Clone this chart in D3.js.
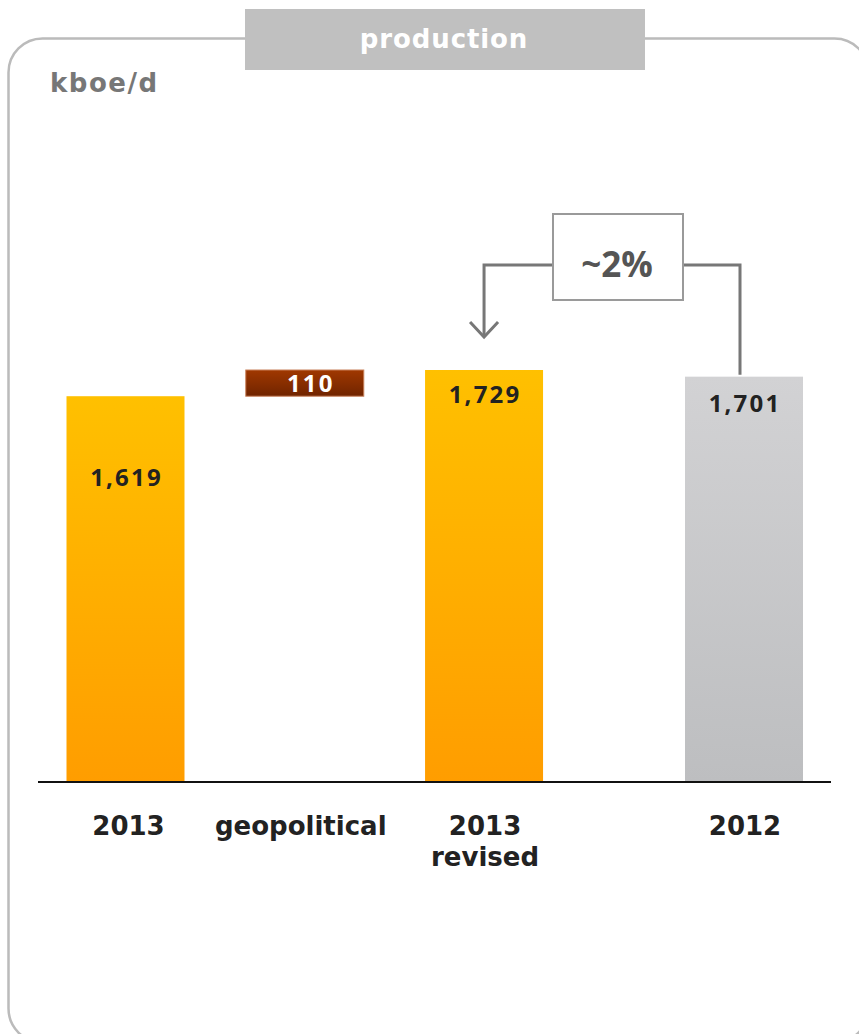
<!DOCTYPE html>
<html>
<head>
<meta charset="utf-8">
<script src="https://cdn.jsdelivr.net/npm/d3@7"></script>
<style>
  html, body { margin: 0; padding: 0; background: #fff; }
  svg { display: block; }
</style>
</head>
<body>
<svg id="chart" width="859" height="1034"></svg>
<script>
// Production bridge, kboe/d
const categories = ["2013", "geopolitical", "2013 revised", "2012"];
const categoryLines = [["2013"], ["geopolitical"], ["2013", "revised"], ["2012"]];
const barStart = [0, 1619, 0, 0];
const barEnd = [1619, 1729, 1729, 1701];
const valueLabels = ["1,619", "110", "1,729", "1,701"];
const barKind = ["total", "delta", "total", "prior"];
const changeLabel = "~2%";
const unitLabel = "kboe/d";
const titleLabel = "production";

const svg = d3.select("#chart");

// gradients
const defs = svg.append("defs");
function vgrad(id, top, bottom) {
  const g = defs.append("linearGradient").attr("id", id)
    .attr("x1", 0).attr("y1", 0).attr("x2", 0).attr("y2", 1);
  g.append("stop").attr("offset", "0%").attr("stop-color", top);
  g.append("stop").attr("offset", "100%").attr("stop-color", bottom);
}
vgrad("gTotal", "#FFC000", "#FF9D00");
vgrad("gDelta", "#A03800", "#702400");
vgrad("gPrior", "#D2D2D4", "#BDBEC0");
const fillOf = { total: "url(#gTotal)", delta: "url(#gDelta)", prior: "url(#gPrior)" };

// rounded frame
svg.append("rect")
  .attr("x", 8.5).attr("y", 38.5).attr("width", 860).attr("height", 1004)
  .attr("rx", 34).attr("ry", 34)
  .attr("fill", "none").attr("stroke", "#BBBBBB").attr("stroke-width", 2.5);

// title tab
svg.append("rect").attr("x", 245).attr("y", 9).attr("width", 400).attr("height", 61)
  .attr("fill", "#C0C0C0");
svg.append("text").attr("x", 444).attr("y", 48)
  .attr("text-anchor", "middle")
  .attr("font-family", "DejaVu Sans").attr("font-weight", "bold")
  .attr("font-size", 26).attr("letter-spacing", 0.9)
  .attr("fill", "#FFFFFF").text(titleLabel);

// unit
svg.append("text").attr("x", 50).attr("y", 92)
  .attr("font-family", "DejaVu Sans").attr("font-weight", "bold")
  .attr("font-size", 26).attr("letter-spacing", 1.5)
  .attr("fill", "#777777").text(unitLabel);

// scales
const baseY = 782;
const slot = [0, 1, 2, 3.45];
const x = d3.scaleLinear().domain([0, 3.45]).range([125.5, 744]);
const y = d3.scaleLinear().domain([0, 1729]).range([baseY, 370]);
const barW = 118;

const data = categories.map((c, i) => ({
  cat: c, lines: categoryLines[i], s: barStart[i], e: barEnd[i],
  label: valueLabels[i], kind: barKind[i], cx: x(slot[i])
}));

// bars
svg.append("g").selectAll("rect").data(data).join("rect")
  .attr("x", d => d.cx - barW / 2)
  .attr("y", d => y(d.e))
  .attr("width", barW)
  .attr("height", d => y(d.s) - y(d.e))
  .attr("fill", d => fillOf[d.kind])
  .attr("stroke", d => d.kind === "delta" ? "#C8805A" : "none")
  .attr("stroke-width", 1);

// value labels
const labelOffset = { "2013": 90, "geopolitical": 22, "2013 revised": 33, "2012": 35 };
svg.append("g").selectAll("text").data(data).join("text")
  .attr("x", d => d.cx + (d.kind === "delta" ? 6 : 1))
  .attr("y", d => y(d.e) + labelOffset[d.cat])
  .attr("text-anchor", "middle")
  .attr("font-family", "Open Sans").attr("font-weight", 700)
  .attr("font-size", 24)
  .attr("letter-spacing", 2.2)
  .attr("fill", d => d.kind === "delta" ? "#FFFFFF" : "#222222")
  .text(d => d.label);

// baseline
svg.append("line").attr("x1", 38).attr("x2", 831)
  .attr("y1", baseY).attr("y2", baseY)
  .attr("stroke", "#111").attr("stroke-width", 2.2);

// category labels
const cat = svg.append("g").selectAll("text").data(data).join("text")
  .attr("x", d => d.cx + (d.cat === "2013" ? 3 : (d.cat === "geopolitical" ? -4 : 1)))
  .attr("y", 835)
  .attr("text-anchor", "middle")
  .attr("font-family", "DejaVu Sans").attr("font-weight", "bold")
  .attr("font-size", 26).attr("fill", "#222222");
cat.selectAll("tspan").data(d => d.lines).join("tspan")
  .attr("x", function() { return d3.select(this.parentNode).attr("x"); })
  .attr("dy", (d, i) => i === 0 ? 0 : 31)
  .text(d => d);

// change bracket between 2012 and 2013 revised
const fromX = x(slot[3]) - 4;
const toX = x(slot[2]);
const bracketY = 265;
const boxX = 553, boxY = 214, boxW = 130, boxH = 86;
const lineColor = "#777777";
svg.append("path")
  .attr("d", `M${boxX + boxW},${bracketY} H${fromX} V${y(barEnd[3]) - 2}`)
  .attr("fill", "none").attr("stroke", lineColor).attr("stroke-width", 3);
svg.append("path")
  .attr("d", `M${boxX},${bracketY} H${toX} V${336}`)
  .attr("fill", "none").attr("stroke", lineColor).attr("stroke-width", 3);
svg.append("path")
  .attr("d", `M${toX - 14},${322} L${toX},${337} L${toX + 14},${322}`)
  .attr("fill", "none").attr("stroke", lineColor).attr("stroke-width", 3);
svg.append("rect").attr("x", boxX).attr("y", boxY).attr("width", boxW).attr("height", boxH)
  .attr("fill", "#FFFFFF").attr("stroke", "#9A9A9A").attr("stroke-width", 2);
svg.append("text").attr("x", boxX + boxW / 2 - 1).attr("y", 277)
  .attr("text-anchor", "middle")
  .attr("font-family", "Open Sans").attr("font-weight", 700)
  .attr("font-size", 35).attr("fill", "#555555").text(changeLabel);
</script>
</body>
</html>
